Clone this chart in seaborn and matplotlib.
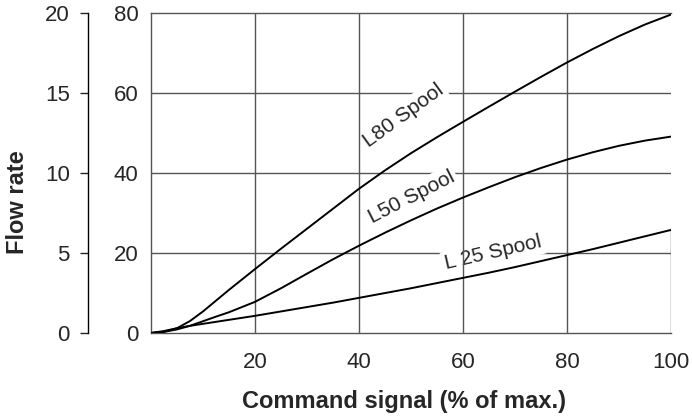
import matplotlib
matplotlib.use("Agg")
import matplotlib.pyplot as plt
import seaborn as sns
import pandas as pd

# command signal (% of max.)
signal = [0, 2.5, 5, 7.5, 10, 12.5, 15, 20, 25, 30, 35, 40, 45, 50, 55, 60, 65, 70, 75, 80, 85, 90, 95, 100]

# flow on the 0-80 scale
l80 = [0, 0.3, 1.2, 3.0, 5.4, 8.1, 10.8, 16.0, 21.1, 26.1, 31.1, 36.1, 40.7, 45.0, 49.0, 52.85, 56.65, 60.4, 64.1, 67.7, 71.1, 74.3, 77.2, 79.7]
l50 = [0, 0.3, 0.9, 1.8, 2.95, 4.1, 5.2, 7.8, 11.2, 14.85, 18.45, 21.85, 25.1, 28.2, 31.15, 33.9, 36.5, 39.0, 41.3, 43.4, 45.25, 46.85, 48.15, 49.15]
l25 = [0, 0.5, 1.2, 1.8, 2.3, 2.8, 3.3, 4.3, 5.4, 6.5, 7.6, 8.8, 10.0, 11.2, 12.5, 13.8, 15.1, 16.5, 18.0, 19.5, 21.0, 22.6, 24.2, 25.8]

spools = ['L80 Spool', 'L50 Spool', 'L 25 Spool']
label_x = [48.5, 50.1, 65.8]
label_y = [54.5, 34.0, 20.0]
label_rot = [36, 27, 13]

inner_ticks = [0, 20, 40, 60, 80]
outer_ticks = [0, 5, 10, 15, 20]
x_ticks = [20, 40, 60, 80, 100]

df = pd.DataFrame({
    'signal': signal * 3,
    'flow': l80 + l50 + l25,
    'spool': [s for s in spools for _ in signal],
})

sns.set_style("white")
plt.rcParams['font.family'] = ['Liberation Sans', 'DejaVu Sans']

fig = plt.figure(figsize=(6.92, 4.17), dpi=100)
ax = fig.add_axes([0.2182, 0.2014, 0.7514, 0.7666])

grid_col = '#555555'

sns.lineplot(data=df, x='signal', y='flow', hue='spool', units='spool', estimator=None,
             palette=['black'] * 3, linewidth=1.4, legend=False, ax=ax, zorder=5)

# horizontal grid under the labels, vertical grid over them
ax.hlines([20, 40, 60], 0, 100, color=grid_col, lw=1, zorder=1)
ax.vlines([20, 40, 60, 80], 0, 80, color=grid_col, lw=1, zorder=4)
ax.vlines(100, 0, l25[-1], color=grid_col, lw=1, zorder=4)

for name, lx, ly, rot in zip(spools, label_x, label_y, label_rot):
    ax.text(lx, ly, name, rotation=rot, ha='center', va='center', fontsize=15,
            rotation_mode='anchor', zorder=2,
            bbox=dict(facecolor='white', edgecolor='none', pad=2))

ax.set_xlim(0, 100)
ax.set_ylim(0, 80)
ax.set_xticks(x_ticks)
ax.set_yticks(inner_ticks)
ax.tick_params(axis='x', length=0, pad=14, labelsize=16)
ax.tick_params(axis='y', length=0, pad=9, labelsize=16)
ax.set_xlabel('')
ax.set_ylabel('')
for side in ['left', 'bottom', 'top']:
    ax.spines[side].set_color(grid_col)
    ax.spines[side].set_linewidth(1)
ax.spines['right'].set_visible(False)

# outer flow rate axis (0-20)
ax2 = ax.twinx()
ax2.set_ylim(0, 20)
ax2.set_yticks(outer_ticks)
ax2.yaxis.tick_left()
ax2.spines['left'].set_position(('outward', 45.5))
ax2.spines['left'].set_color('black')
ax2.spines['left'].set_linewidth(1)
for side in ['right', 'top', 'bottom']:
    ax2.spines[side].set_visible(False)
ax2.tick_params(axis='y', length=5.5, width=1, pad=7.5, labelsize=16)

fig.text(17.5 / 692, 1 - 201.7 / 417, 'Flow rate', rotation=90, ha='center', va='center',
         fontsize=17, fontweight='bold')
fig.text(403.5 / 692, 1 - 401.7 / 417, 'Command signal (% of max.)', ha='center', va='center',
         fontsize=17, fontweight='bold')

plt.savefig('out.png', dpi=100)
